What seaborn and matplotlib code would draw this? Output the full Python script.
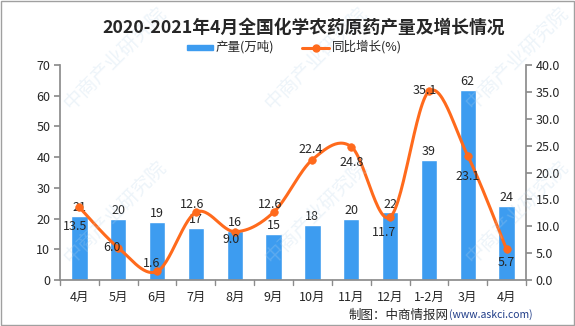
import numpy as np
import pandas as pd
import matplotlib
matplotlib.use("Agg")
import matplotlib.pyplot as plt
import seaborn as sns
from matplotlib.patches import Rectangle
from matplotlib.lines import Line2D

categories = ["4月", "5月", "6月", "7月", "8月", "9月", "10月", "11月", "12月", "1-2月", "3月", "4月"]
output = [21, 20, 19, 17, 16, 15, 18, 20, 22, 39, 62, 24]
growth = [13.5, 6.0, 1.6, 12.6, 9.0, 12.6, 22.4, 24.8, 11.7, 35.1, 23.1, 5.7]
left_ticks = [0, 10, 20, 30, 40, 50, 60, 70]
right_ticks = [0, 5, 10, 15, 20, 25, 30, 35, 40]

title = "2020-2021年4月全国化学农药原药产量及增长情况"
bar_label = "产量(万吨)"
line_label = "同比增长(%)"
source_a = "制图：中商情报网"
source_b = "(www.askci.com)"

BAR = "#3d9cf0"
LINE = "#ff6a1c"
GREY = "#8c8c8c"

sns.set_theme(style="white")
plt.rcParams["font.family"] = ["Noto Sans CJK SC", "DejaVu Sans"]

fig = plt.figure(figsize=(5.75, 3.26), dpi=100)
ax = fig.add_axes([60 / 575, 1 - 280 / 326, (526 - 60) / 575, (280 - 65) / 326])

df = pd.DataFrame({"cat": range(len(categories)), "output": output, "growth": growth})
sns.barplot(data=df, x="cat", y="output", color=BAR, width=0.42, ax=ax, saturation=1)
ax.set_xlim(-0.5, len(categories) - 0.5)
ax.set_ylim(0, 70)
ax.set_yticks(left_ticks)
ax.set_yticklabels([str(t) for t in left_ticks], fontsize=9)
ax.set_xticks(range(len(categories)))
ax.set_xticklabels(categories, fontsize=9)
ax.set_xlabel("")
ax.set_ylabel("")
ax.tick_params(axis="x", length=0, pad=8)
for b in np.arange(-0.5, len(categories), 1.0):
    ax.plot([b, b], [0, -1.6], color=GREY, lw=1, clip_on=False)
ax.tick_params(axis="y", length=4, color=GREY, left=True, pad=3)
for s in ["top", "right"]:
    ax.spines[s].set_visible(False)
for s in ["left", "bottom"]:
    ax.spines[s].set_color(GREY)

for p, v in zip(ax.patches, output):
    ax.text(p.get_x() + p.get_width() / 2, v + 0.6, str(v), ha="center", va="bottom", fontsize=9)

ax2 = ax.twinx()
x = np.arange(len(categories), dtype=float)
y = np.array(growth, dtype=float)
# smooth rendering (Catmull-Rom) through the data points
xs, ys = [], []
pts = np.column_stack([x, y])
ext = np.vstack([pts[0], pts, pts[-1]])
for i in range(len(pts) - 1):
    p0, p1, p2, p3 = ext[i], ext[i + 1], ext[i + 2], ext[i + 3]
    t = np.linspace(0, 1, 30)[:, None]
    seg = 0.5 * ((2 * p1) + (-p0 + p2) * t + (2 * p0 - 5 * p1 + 4 * p2 - p3) * t ** 2
                 + (-p0 + 3 * p1 - 3 * p2 + p3) * t ** 3)
    xs.extend(seg[:, 0]); ys.extend(seg[:, 1])
ax2.plot(xs, ys, color=LINE, lw=2.2, zorder=3)
sns.scatterplot(data=df, x="cat", y="growth", color=LINE, s=30, ax=ax2, zorder=4,
                edgecolor=LINE, legend=False)
ax2.set_xlim(-0.5, len(categories) - 0.5)
ax2.set_ylim(0, 40)
ax2.set_yticks(right_ticks)
ax2.set_yticklabels([f"{t:.1f}" for t in right_ticks], fontsize=9)
ax2.set_ylabel("")
ax2.tick_params(axis="y", length=4, color=GREY, right=True, pad=3)
for s in ["top", "left", "bottom"]:
    ax2.spines[s].set_visible(False)
ax2.spines["right"].set_color(GREY)

offsets = [-3.5, 0, 1.5, 1.5, -1.5, 1.5, 1.8, -3.0, -2.8, 0.1, -3.8, -2.5]
dx = [-0.1, -0.15, -0.15, -0.1, -0.1, -0.1, -0.05, 0, -0.15, -0.1, 0, 0]
for i, v in enumerate(growth):
    ax2.text(i + dx[i], v + offsets[i], f"{v:.1f}", ha="center", va="center", fontsize=9, zorder=5)

fig.text(304 / 575, 1 - 28 / 326, title, ha="center", va="center", fontsize=12.8, fontweight="bold")

# legend
fig.patches.append(Rectangle((187 / 575, 1 - 50 / 326), 26 / 575, 5 / 326, transform=fig.transFigure,
                             color=BAR, figure=fig))
fig.text(216 / 575, 1 - 47 / 326, bar_label, ha="left", va="center", fontsize=9)
fig.lines.append(Line2D([302 / 575, 329 / 575], [1 - 47.5 / 326, 1 - 47.5 / 326], transform=fig.transFigure,
                        color=LINE, lw=2.2, figure=fig))
fig.lines.append(Line2D([315.5 / 575], [1 - 47.5 / 326], transform=fig.transFigure, marker="o", ms=5,
                        color=LINE, figure=fig))
fig.text(332 / 575, 1 - 47 / 326, line_label, ha="left", va="center", fontsize=9)

fig.text(449 / 575, 1 - 315 / 326, source_a, ha="right", va="center", fontsize=9)
fig.text(449 / 575, 1 - 315 / 326, source_b, ha="left", va="center", fontsize=7.5, color="#1f3c88")

# faint watermarks
for (wx, wy) in [(0.2, 0.82), (0.55, 0.82), (0.9, 0.82), (0.2, 0.35), (0.55, 0.35), (0.9, 0.35)]:
    fig.text(wx, wy, "中商产业研究院", ha="center", va="center", fontsize=14, rotation=45,
             color="#b8d4ea", alpha=0.25, zorder=0)

fig.patches.append(Rectangle((0.001, 0.002), 0.997, 0.995, transform=fig.transFigure, fill=False,
                             edgecolor="#a0a0a0", lw=1, figure=fig))

fig.savefig("out.png", dpi=100)
